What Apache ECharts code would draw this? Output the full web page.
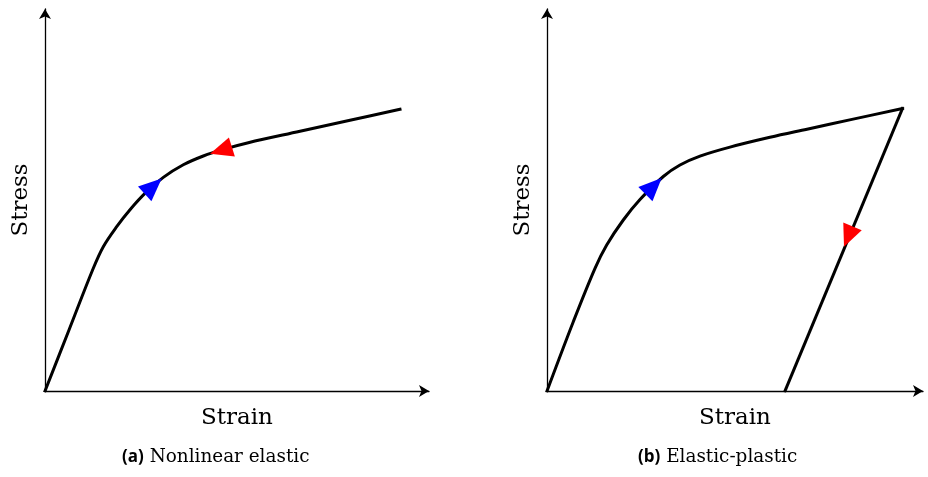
<!DOCTYPE html>
<html>
<head>
<meta charset="utf-8">
<script src="https://cdn.jsdelivr.net/npm/echarts@6/dist/echarts.min.js"></script>
<style>
  html, body { margin: 0; padding: 0; background: #fff; }
  #chart { width: 928px; height: 477px; }
</style>
</head>
<body>
<div id="chart"></div>
<script>
// (a) Nonlinear elastic: loading and unloading share one stress-strain path
const elasticStrain = [0, 2.4, 4.83, 5.83, 7.17, 8.5, 10.17, 11.83, 13.83, 15.83, 17.83, 20.33, 25.5, 30.5, 35.5];
const elasticStress = [0, 6.1, 12.27, 14.43, 16.43, 18.13, 19.93, 21.36, 22.62, 23.5, 24.16, 24.83, 25.97, 27.07, 28.17];

// (b) Elastic-plastic: loading path up to the peak, then linear unloading
const plasticStrain = [0, 2.63, 4.8, 5.97, 7.63, 9.3, 11.63, 13.3, 15.3, 18.3, 22.3, 26, 30.5, 35.55];
const plasticStress = [0, 6.93, 12.27, 14.6, 17.1, 19.14, 21.45, 22.6, 23.49, 24.39, 25.37, 26.18, 27.16, 28.25];
const unloadStrain = [35.55, 23.8];
const unloadStress = [28.25, 0];

// Direction markers: [tail strain, tail stress, tip strain, tip stress]
const elasticLoadArrow = [9.97, 19.71, 11.67, 21.25];
const elasticUnloadArrow = [18.69, 24.4, 16.5, 23.72];
const plasticLoadArrow = [9.84, 19.68, 11.47, 21.3];
const plasticUnloadArrow = [30.55, 16.46, 29.7, 14.43];

// Axis extents (same scale in both panels)
const strainMaxA = 38.4;
const strainMaxB = 37.6;
const stressMax = 38.2;

const axisNameX = 'Strain';
const axisNameY = 'Stress';
const captionA = ['(a)', 'Nonlinear elastic'];
const captionB = ['(b)', 'Elastic-plastic'];

const zip = (xs, ys) => xs.map((x, i) => [x, ys[i]]);

const serif = 'DejaVu Serif';

function xAxisFor(gridIndex, max) {
  return {
    type: 'value', gridIndex, min: 0, max,
    name: axisNameX, nameLocation: 'middle', nameGap: 15,
    nameTextStyle: { fontFamily: serif, fontSize: 23, color: '#000', lineHeight: 24 },
    axisLine: { show: true, onZero: false, symbol: ['none', 'arrow'], symbolSize: [9, 10],
      lineStyle: { color: '#000', width: 1.3 } },
    axisTick: { show: false }, axisLabel: { show: false }, splitLine: { show: false }
  };
}
function yAxisFor(gridIndex) {
  return {
    type: 'value', gridIndex, min: 0, max: stressMax,
    name: axisNameY, nameLocation: 'middle', nameGap: 12, nameRotate: 90,
    nameTextStyle: { fontFamily: serif, fontSize: 23, color: '#000', lineHeight: 24 },
    axisLine: { show: true, onZero: false, symbol: ['none', 'arrow'], symbolSize: [9, 10],
      lineStyle: { color: '#000', width: 1.3 } },
    axisTick: { show: false }, axisLabel: { show: false }, splitLine: { show: false }
  };
}

// Filled triangular arrowhead drawn along a path, from tail to tip
function arrowHead(params, api) {
  const t = api.coord([api.value(0), api.value(1)]);
  const p = api.coord([api.value(2), api.value(3)]);
  const dx = p[0] - t[0], dy = p[1] - t[1];
  const len = Math.hypot(dx, dy) || 1;
  const nx = -dy / len, ny = dx / len;
  const half = 10;
  return {
    type: 'polygon',
    shape: { points: [p, [t[0] + nx * half, t[1] + ny * half], [t[0] - nx * half, t[1] - ny * half]] },
    style: { fill: api.visual('color') }
  };
}

function curve(data, xi, smooth) {
  return {
    type: 'line', xAxisIndex: xi, yAxisIndex: xi, data, smooth,
    showSymbol: false, symbol: 'none', silent: true, z: 2,
    lineStyle: { color: '#000', width: 3, cap: 'square', join: 'miter' }
  };
}
function arrow(values, xi, color) {
  return {
    type: 'custom', xAxisIndex: xi, yAxisIndex: xi, data: [values],
    renderItem: arrowHead, itemStyle: { color }, silent: true, z: 5
  };
}

function caption(parts, left) {
  return {
    text: '{lab|' + parts[0] + '} {txt|' + parts[1] + '}',
    left, top: 447, padding: 0,
    textStyle: {
      fontFamily: serif, fontSize: 18.4, fontWeight: 'normal', color: '#000', lineHeight: 20,
      rich: {
        lab: { fontFamily: 'Open Sans', fontWeight: 'bold', fontSize: 17, color: '#000', lineHeight: 20 },
        txt: { fontFamily: serif, fontWeight: 'normal', fontSize: 18.4, color: '#000', lineHeight: 20 }
      }
    }
  };
}

const chart = echarts.init(document.getElementById('chart'), null, { renderer: 'canvas' });
chart.setOption({
  backgroundColor: '#fff',
  animation: false,
  title: [caption(captionA, 122), caption(captionB, 638)],
  grid: [
    { left: 45, top: 9, width: 384, height: 382 },
    { left: 547, top: 9, width: 376, height: 382 }
  ],
  xAxis: [xAxisFor(0, strainMaxA), xAxisFor(1, strainMaxB)],
  yAxis: [yAxisFor(0), yAxisFor(1)],
  series: [
    curve(zip(elasticStrain, elasticStress), 0, 0.35),
    curve(zip(plasticStrain, plasticStress), 1, 0.35),
    curve(zip(unloadStrain, unloadStress), 1, false),
    arrow(elasticLoadArrow, 0, '#0000ff'),
    arrow(elasticUnloadArrow, 0, '#ff0000'),
    arrow(plasticLoadArrow, 1, '#0000ff'),
    arrow(plasticUnloadArrow, 1, '#ff0000')
  ]
});
</script>
</body>
</html>
